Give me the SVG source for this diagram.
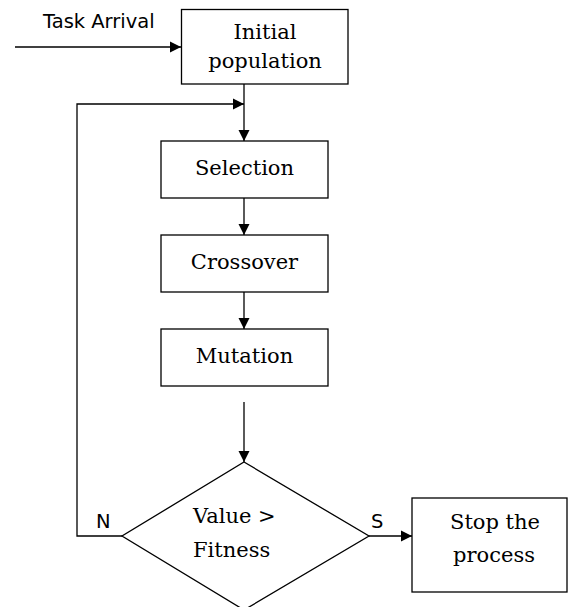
<svg xmlns="http://www.w3.org/2000/svg" width="568" height="607" viewBox="0 0 568 607">
<style>
.box{fill:#fff;stroke:#000;stroke-width:1.3}
.ln{fill:none;stroke:#000;stroke-width:1.3}
.t{font-family:"DejaVu Serif","Liberation Serif",serif;font-size:21px;fill:#000;text-anchor:middle}
.s{font-family:"DejaVu Sans","Liberation Sans",sans-serif;font-size:19.5px;fill:#000}
</style>
<defs>
<marker id="ah" markerUnits="userSpaceOnUse" markerWidth="12" markerHeight="12" viewBox="0 0 12 12" refX="11" refY="6" orient="auto">
<path d="M0,0.5 L11,6 L0,11.5 Z" fill="#000"/>
</marker>
</defs>
<rect width="568" height="607" fill="#fff"/>
<g id="connectors">
<line class="ln" x1="15" y1="47" x2="181" y2="47" marker-end="url(#ah)"/>
<line class="ln" x1="244" y1="84" x2="244" y2="141" marker-end="url(#ah)"/>
<polyline class="ln" points="122,536 77,536 77,104 244,104" marker-end="url(#ah)"/>
<line class="ln" x1="244" y1="198" x2="244" y2="235" marker-end="url(#ah)"/>
<line class="ln" x1="244" y1="292" x2="244" y2="329" marker-end="url(#ah)"/>
<line class="ln" x1="244" y1="402" x2="244" y2="462" marker-end="url(#ah)"/>
<line class="ln" x1="369" y1="536" x2="412" y2="536" marker-end="url(#ah)"/>
<text class="s" x="43" y="28">Task Arrival</text>
<text class="s" x="96" y="528" font-size="18">N</text>
<text class="s" x="371" y="528" font-size="18">S</text>
</g>
<g id="initial">
<rect class="box" x="181.5" y="9.5" width="166.5" height="74.5"/>
<text class="t" x="265" y="39">Initial</text>
<text class="t" x="265" y="68">population</text>
</g>
<g id="selection">
<rect class="box" x="161" y="141" width="167" height="57"/>
<text class="t" x="244.5" y="175">Selection</text>
</g>
<g id="crossover">
<rect class="box" x="161" y="235" width="167" height="57"/>
<text class="t" x="244.5" y="269">Crossover</text>
</g>
<g id="mutation">
<rect class="box" x="161" y="329" width="167" height="57"/>
<text class="t" x="244.5" y="363">Mutation</text>
</g>
<g id="decision">
<polygon class="box" points="244,462 369,536 244,610 122,536"/>
<text class="t" x="193" y="523" text-anchor="start" style="text-anchor:start">Value &gt;</text>
<text class="t" x="193" y="557" style="text-anchor:start">Fitness</text>
</g>
<g id="stop">
<rect class="box" x="412" y="498" width="155" height="94"/>
<text class="t" x="495" y="529">Stop the</text>
<text class="t" x="494" y="562">process</text>
</g>
</svg>
